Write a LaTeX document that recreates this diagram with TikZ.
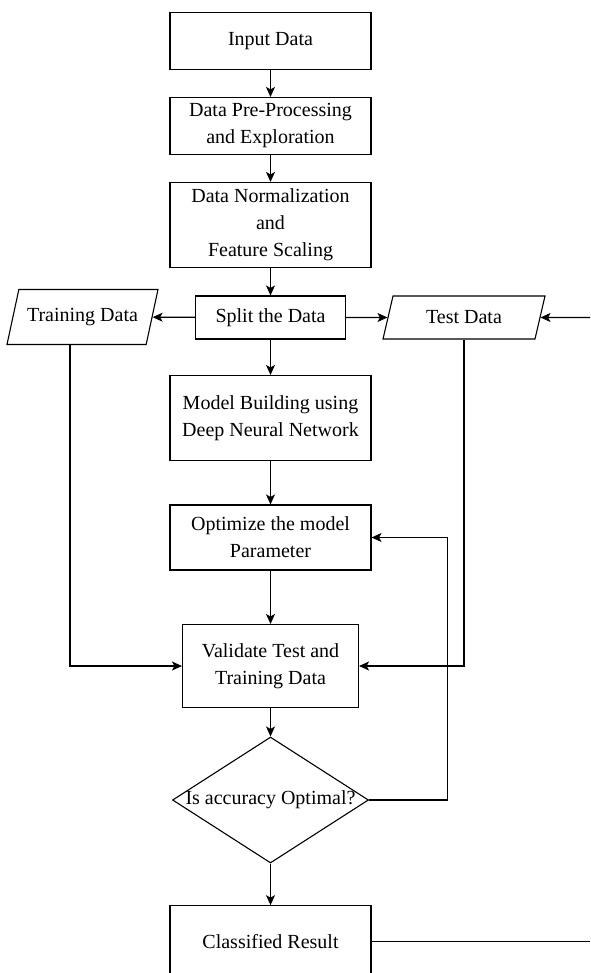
\documentclass[tikz,border=0pt]{standalone}
\usepackage{fontspec}
\setmainfont{Liberation Serif}
\usetikzlibrary{arrows.meta,shapes.geometric}

\begin{document}
\begin{tikzpicture}[x=1pt,y=-1pt,line width=1.1pt,>={Stealth[length=10pt,width=9pt,inset=2.5pt]}]
	\tikzset{
		stage/.style={draw,rectangle,inner sep=0pt,minimum width=201pt,align=center,font=\fontsize{20}{27}\selectfont},
		iodata/.style={draw,trapezium,trapezium stretches body,trapezium left angle=56,trapezium right angle=124,inner sep=0pt,font=\fontsize{20}{27}\selectfont},
		decision/.style={draw,diamond,inner sep=0pt,font=\fontsize{20}{27}\selectfont}
	}
	\useasboundingbox (0,0) rectangle (590,973);

	%% main column
	\node[stage,minimum height=57pt] (input) at (270.5,41) {Input Data};
	\node[stage,minimum height=57pt] (prep) at (270.5,126) {Data Pre-Processing\\and Exploration};
	\node[stage,minimum height=85pt] (norm) at (270.5,225) {Data Normalization\\and\\Feature Scaling};
	\node[stage,minimum width=150pt,minimum height=43pt] (split) at (270.5,317.5) {Split the Data};
	\node[stage,minimum height=85pt] (model) at (270.5,418) {Model Building using\\Deep Neural Network};
	\node[stage,minimum height=65pt] (optim) at (270.5,537.5) {Optimize the model\\Parameter};
	\node[stage,minimum width=176pt,minimum height=83pt] (valid) at (270.5,666) {Validate Test and\\Training Data};
	\node[decision,minimum width=196pt,minimum height=126pt] (check) at (270.5,800) {\makebox[0pt]{Is accuracy Optimal?}};
	\node[stage,minimum height=72pt] (result) at (270.5,941.7) {Classified Result};

	%% data sets
	\node[iodata,minimum width=151pt,minimum height=55pt] (train) at (82.5,317) {Training Data};
	\node[iodata,trapezium left angle=53,trapezium right angle=127,minimum width=162pt,minimum height=43pt] (test) at (464,317.5) {Test Data};

	\coordinate (rim) at (590,317.5);

	\path[->]
		(input) edge (prep)
		(prep) edge (norm)
		(norm) edge (split)
		(split) edge (model)
		(model) edge (optim)
		(optim) edge (valid)
		(valid) edge (check)
		(check) edge (result)
		(split) edge (train)
		(split) edge (test)
		(rim) edge (test);

	\draw[->] ([xshift=-12.5pt]train.south) |- (valid);
	\draw[->] (test) |- (valid);
	\draw[->] (check.east) -- +(78,0) |- (optim);
	\draw (result) -- (result -| rim);
\end{tikzpicture}
\end{document}
